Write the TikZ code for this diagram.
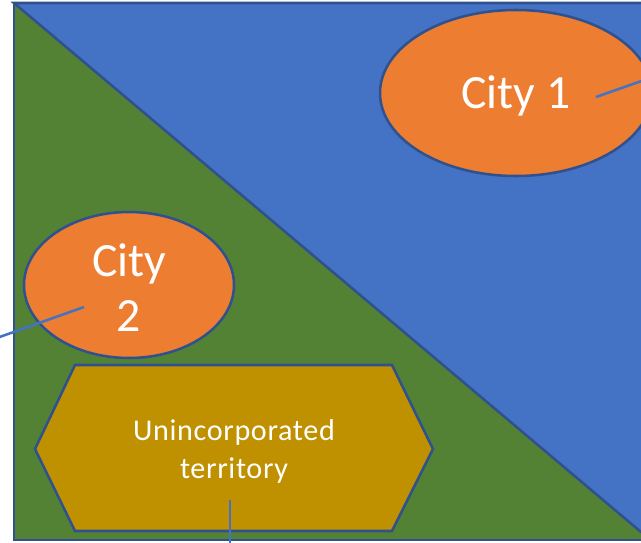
\documentclass[tikz,border=0pt]{standalone}
\usepackage{fontspec}
\setmainfont{Carlito}
\usetikzlibrary{shapes.geometric}
\definecolor{blueA}{HTML}{4472C4}
\definecolor{edgeA}{HTML}{2F528F}
\definecolor{greenA}{HTML}{548235}
\definecolor{orangeA}{HTML}{ED7D31}
\definecolor{goldA}{HTML}{BF9000}
\tikzset{
  px/.style={x=0.75pt,y=-0.75pt},
  region/.style={draw=edgeA,line width=1.9pt,line join=miter},
  city/.style={ellipse,draw=edgeA,line width=1.9pt,fill=orangeA,inner sep=0pt},
  citylabel/.style={text=white,align=center,inner sep=0pt,font=\fontsize{35.8}{41}\selectfont},
  leader/.style={draw=blueA,line width=1.9pt},
  hexlabel/.style={text=white,align=center,inner sep=0pt,font=\fontsize{22.6}{28.5}\selectfont\addfontfeatures{LetterSpace=2.2}}
}
\begin{document}
\begin{tikzpicture}[px]
\useasboundingbox (0,0) rectangle (641,542);
\clip (0,0) rectangle (641,542);
\fill[white] (0,0) rectangle (641,542);
\fill[greenA] (14,3) -- (14,540) -- (660,540) -- (660,549) -- cycle;
\filldraw[region,fill=blueA] (14,3) -- (660,3) -- (660,548) -- cycle;
\draw[region] (14,3) -- (14,540) -- (660,540);
\node[city,minimum width=272*0.75pt,minimum height=166*0.75pt] (c1) at (516,93) {};
\node[citylabel] (c1t) at (516,95.5) {City 1};
\node[city,minimum width=210*0.75pt,minimum height=146*0.75pt] (c2) at (129,285) {};
\node[citylabel] (c2t) at (129,287.5) {City\\2};
\coordinate (h1) at (35,449);
\coordinate (h2) at (75,365);
\coordinate (h3) at (392,365);
\coordinate (h4) at (433,449);
\coordinate (h5) at (392,531);
\coordinate (h6) at (75,531);
\filldraw[region,fill=goldA] (h1) -- (h2) -- (h3) -- (h4) -- (h5) -- (h6) -- cycle;
\node[hexlabel] (ut) at (234,451) {Unincorporated\\territory};
\coordinate (c1in) at (596,97);
\coordinate (c1out) at (650,78);
\coordinate (c2in) at (84,307);
\coordinate (c2out) at (-6,339);
\coordinate (utin) at (230,500);
\coordinate (utout) at (230,548);
\draw[leader] (c1in) -- (c1out);
\draw[leader] (c2in) -- (c2out);
\draw[leader] (utin) -- (utout);
\end{tikzpicture}
\end{document}
